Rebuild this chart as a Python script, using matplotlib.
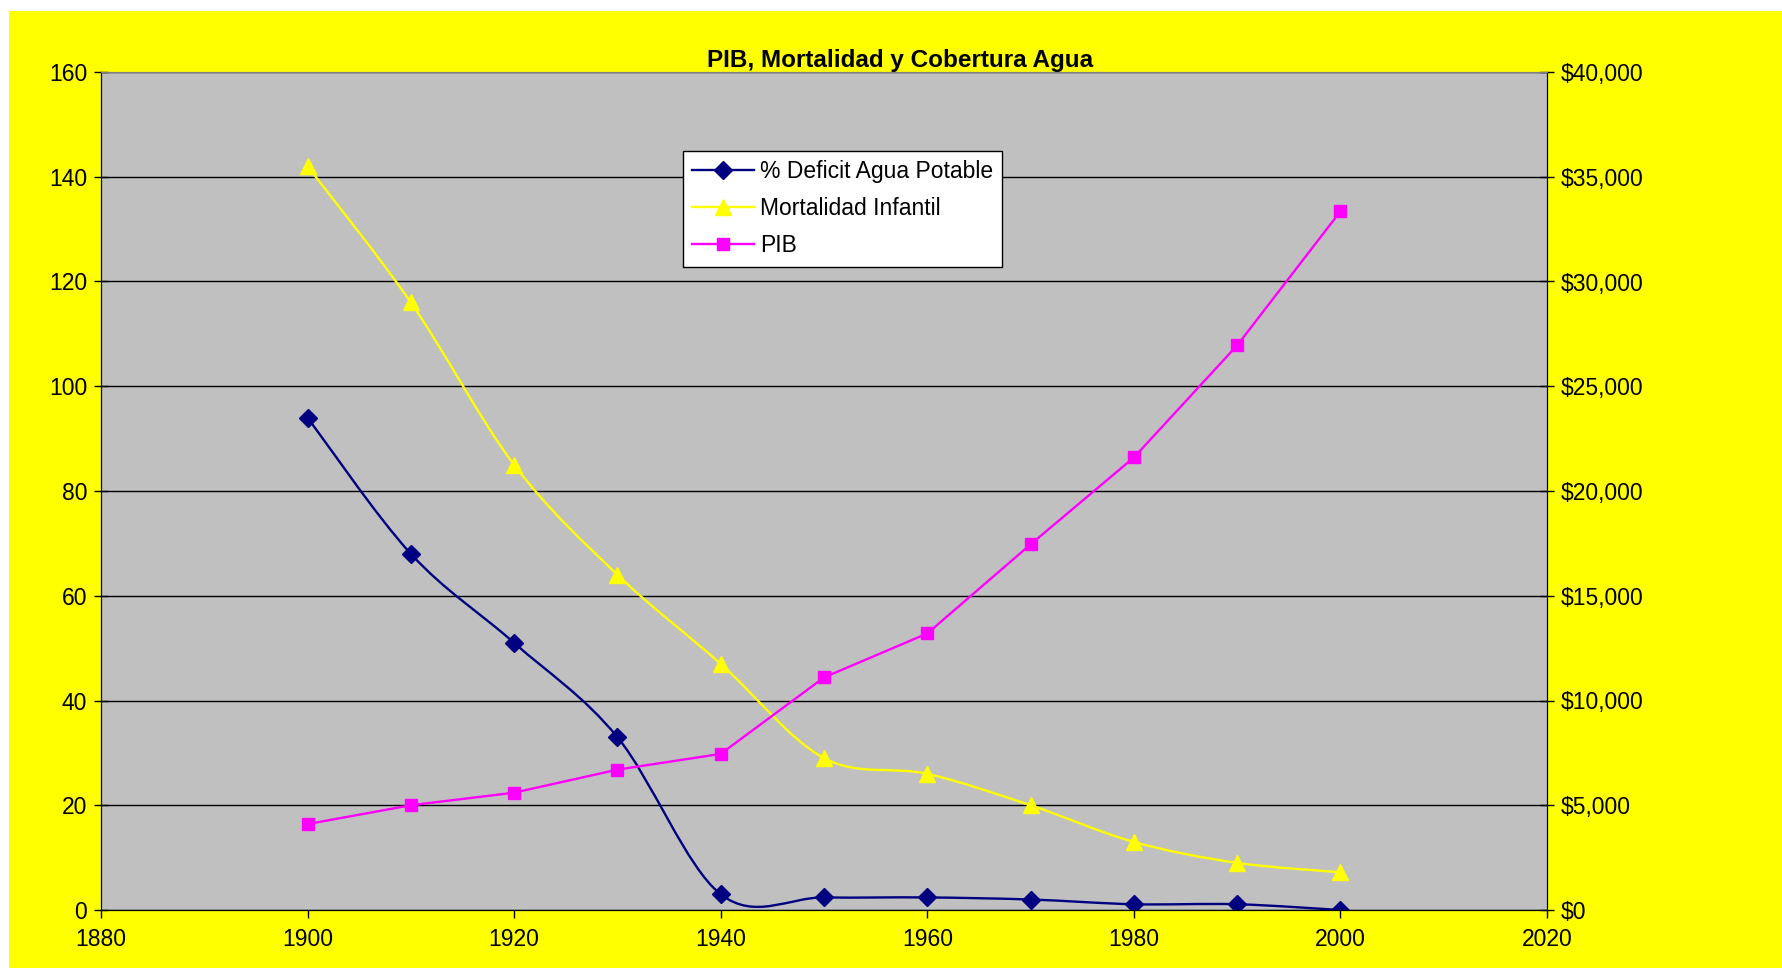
import numpy as np
import matplotlib
matplotlib.use("Agg")
import matplotlib.pyplot as plt
from matplotlib.path import Path
from matplotlib.patches import PathPatch, Rectangle
from matplotlib.lines import Line2D
from matplotlib.ticker import FuncFormatter

plt.rcParams['font.family'] = ['Liberation Sans', 'DejaVu Sans']

# data
years = [1900, 1910, 1920, 1930, 1940, 1950, 1960, 1970, 1980, 1990, 2000]
deficit_agua = [94, 68, 51, 33, 3, 2.4, 2.4, 2.0, 1.1, 1.1, 0]
mortalidad = [142, 116, 85, 64, 47, 29, 26, 20, 13, 9, 7.2]
pib = [4100, 5000, 5600, 6700, 7450, 11100, 13200, 17450, 21600, 26950, 33350]

labels = ['% Deficit Agua Potable', 'Mortalidad Infantil', 'PIB']
title = 'PIB, Mortalidad y Cobertura Agua'


def smooth_path(xs, ys):
    # Excel-style smoothed line: cubic bezier segments (Catmull-Rom control points)
    pts = np.column_stack([xs, ys]).astype(float)
    n = len(pts)
    verts = [pts[0]]
    codes = [Path.MOVETO]
    for i in range(n - 1):
        p0 = pts[i - 1] if i > 0 else pts[i]
        p1 = pts[i]
        p2 = pts[i + 1]
        p3 = pts[i + 2] if i + 2 < n else pts[i + 1]
        c1 = p1 + (p2 - p0) / 6.0
        c2 = p2 - (p3 - p1) / 6.0
        verts += [c1, c2, p2]
        codes += [Path.CURVE4] * 3
    return Path(verts, codes)


fig = plt.figure(figsize=(17.82, 9.71), dpi=100, facecolor='white')
fig.patches.append(Rectangle((9 / 1782, 0.003), 1 - 9 / 1782, 1 - 11 / 971 - 0.003,
                             transform=fig.transFigure, facecolor='#FFFF00',
                             edgecolor='none', zorder=-10))

ax = fig.add_axes([101 / 1782, 1 - 910 / 971, (1547 - 101) / 1782, (910 - 72) / 971])
ax.set_facecolor('#C0C0C0')
ax2 = ax.twinx()

navy = '#000080'
yel = '#FFFF00'
mag = '#FF00FF'
lw = 1.7

ax.add_patch(PathPatch(smooth_path(years, deficit_agua), facecolor='none',
                       edgecolor=navy, lw=lw, zorder=3))
ax.plot(years, deficit_agua, linestyle='none', marker='D', ms=9, color=navy, zorder=4)
ax.add_patch(PathPatch(smooth_path(years, mortalidad), facecolor='none',
                       edgecolor=yel, lw=lw, zorder=3))
ax.plot(years, mortalidad, linestyle='none', marker='^', ms=12, color=yel, zorder=4)

ax2.plot(years, pib, color=mag, lw=lw, marker='s', ms=9, zorder=4)

ax.set_xlim(1880, 2020)
ax.set_ylim(0, 160)
ax2.set_ylim(0, 40000)
ax.set_xticks(np.arange(1880, 2021, 20))
ax.set_yticks(np.arange(0, 161, 20))
ax2.set_yticks(np.arange(0, 40001, 5000))
ax2.yaxis.set_major_formatter(FuncFormatter(lambda v, p: '${:,.0f}'.format(v)))
ax.yaxis.grid(True, color='black', lw=1)
ax.set_axisbelow(True)

for a in (ax, ax2):
    a.spines['top'].set_color('#808080')
    a.spines['bottom'].set_color('black')
    a.spines['left'].set_color('black')
    a.spines['right'].set_color('black')
ax.tick_params(axis='x', direction='out', length=6, width=1, labelsize=16.5, pad=7)
ax.tick_params(axis='y', direction='inout', length=10, width=1, labelsize=16.5, pad=5)
ax2.tick_params(axis='y', direction='inout', length=10, width=1, labelsize=16.5, pad=5)
ax2.set_zorder(ax.get_zorder() + 1)
ax2.patch.set_visible(False)

handles = [
    Line2D([], [], color=navy, lw=lw, marker='D', ms=9),
    Line2D([], [], color=yel, lw=lw, marker='^', ms=12),
    Line2D([], [], color=mag, lw=lw, marker='s', ms=9),
]
leg = ax2.legend(handles, labels, loc='upper left', bbox_to_anchor=(0.4025, 0.906),
                 fontsize=16.5, frameon=True, fancybox=False, framealpha=1,
                 edgecolor='black', handlelength=2.7, handletextpad=0.25,
                 borderpad=0.4, labelspacing=0.62, borderaxespad=0)
leg.get_frame().set_linewidth(1)

fig.text(0.505, 1 - 60 / 971, title, ha='center', va='center',
         fontsize=17.5, fontweight='bold')

fig.savefig('out.png', dpi=100, facecolor=fig.get_facecolor())
